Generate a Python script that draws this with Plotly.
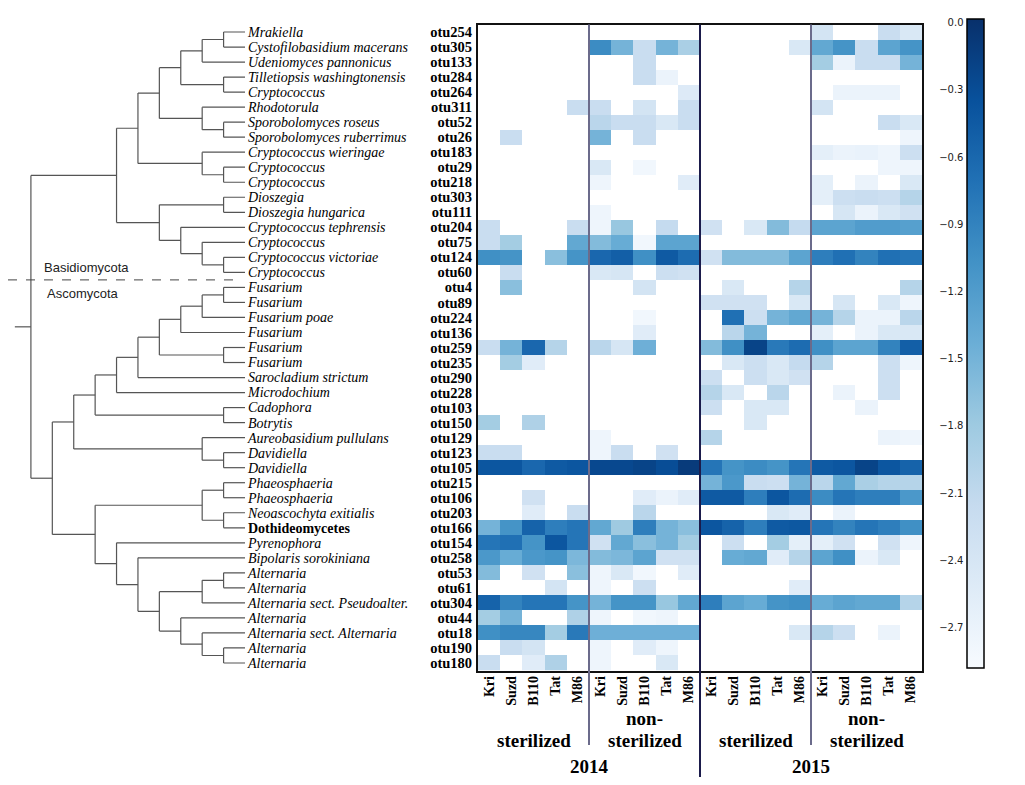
import plotly.graph_objects as go

# page body adds an 8px margin around the figure
OFF = 8
W, H = 1025 - OFF, 785 - OFF


def px(x):
    return (x - OFF) / W


def py(y):
    return 1 - (y - OFF) / H


# ---------------- data ----------------
species = [
    "Mrakiella", "Cystofilobasidium macerans", "Udeniomyces pannonicus",
    "Tilletiopsis washingtonensis", "Cryptococcus", "Rhodotorula",
    "Sporobolomyces roseus", "Sporobolomyces ruberrimus", "Cryptococcus wieringae",
    "Cryptococcus", "Cryptococcus", "Dioszegia", "Dioszegia hungarica",
    "Cryptococcus tephrensis", "Cryptococcus", "Cryptococcus victoriae",
    "Cryptococcus", "Fusarium", "Fusarium", "Fusarium poae", "Fusarium",
    "Fusarium", "Fusarium", "Sarocladium strictum", "Microdochium", "Cadophora",
    "Botrytis", "Aureobasidium pullulans", "Davidiella", "Davidiella",
    "Phaeosphaeria", "Phaeosphaeria", "Neoascochyta exitialis", "Dothideomycetes",
    "Pyrenophora", "Bipolaris sorokiniana", "Alternaria", "Alternaria",
    "Alternaria sect. Pseudoalter.", "Alternaria", "Alternaria sect. Alternaria",
    "Alternaria", "Alternaria",
]
otus = [
    "otu254", "otu305", "otu133", "otu284", "otu264", "otu311", "otu52", "otu26",
    "otu183", "otu29", "otu218", "otu303", "otu111", "otu204", "otu75", "otu124",
    "otu60", "otu4", "otu89", "otu224", "otu136", "otu259", "otu235", "otu290",
    "otu228", "otu103", "otu150", "otu129", "otu123", "otu105", "otu215", "otu106",
    "otu203", "otu166", "otu154", "otu258", "otu53", "otu61", "otu304", "otu44",
    "otu18", "otu190", "otu180",
]
non_italic = ["Dothideomycetes"]
phylum = ["Basidiomycota"] * 17 + ["Ascomycota"] * 26

samples = ["Kri", "Suzd", "B110", "Tat", "M86"]
treatments = ["sterilized", "non-<br>sterilized"]
years = ["2014", "2015"]

N = None
# log10 relative abundance, rows follow `otus`, columns follow `samples`
ster_2014 = [
    [N, N, N, N, N], [N, N, N, N, N], [N, N, N, N, N], [N, N, N, N, N],
    [N, N, N, N, N], [N, N, N, N, -2.2], [N, N, N, N, N], [N, -2.2, N, N, N],
    [N, N, N, N, N], [N, N, N, N, N], [N, N, N, N, N], [N, N, N, N, N],
    [N, N, N, N, N], [-2.2, N, N, N, -2.2], [-2.2, -1.85, N, N, -1.35],
    [-1.05, -1.1, N, -1.65, -1.1], [N, -2.2, N, N, N], [N, -1.65, N, N, N],
    [N, N, N, N, N], [N, N, N, N, N], [N, N, N, N, N],
    [-2.2, -1.5, -0.6, -2.0, N], [N, -1.85, -2.55, N, N], [N, N, N, N, N],
    [N, N, N, N, N], [N, N, N, N, N], [-1.85, N, -1.95, N, N], [N, N, N, N, N],
    [-2.2, -2.2, N, N, N], [-0.4, -0.4, -0.6, -0.45, -0.4], [N, N, N, N, N],
    [N, N, -2.3, N, N], [N, N, -2.55, N, -2.2], [-1.5, -1.1, -0.55, -0.85, -0.75],
    [-0.75, -0.7, -1.1, -0.4, -0.75], [-1.15, -1.4, -1.15, -1.1, -1.55],
    [-1.6, N, -2.3, N, -1.65], [N, N, N, -2.35, N],
    [-0.55, -0.9, -0.75, -0.75, -1.1], [-1.85, -1.5, N, N, -1.95],
    [-1.05, -0.95, -0.95, -1.85, -0.8], [N, -2.2, -2.35, N, N],
    [-2.2, N, -2.55, -1.95, N],
]
nonster_2014 = [
    [N, N, N, N, N], [-1.0, -1.5, -2.2, -1.5, -1.9], [N, N, -2.2, N, N],
    [N, N, -2.2, -2.7, N], [N, N, N, N, -2.5], [-2.2, N, -2.35, N, -2.2],
    [-2.05, -2.2, -2.2, -2.45, -2.2], [-1.5, N, -2.2, N, N], [N, N, N, N, N],
    [-2.45, N, -2.8, N, N], [-2.75, N, N, N, -2.55], [N, N, N, N, N],
    [-2.75, N, N, N, N], [-2.75, -1.75, N, -2.15, N], [-1.6, -1.4, -2.8, -1.3, -1.3],
    [-0.6, -0.5, -1.05, -0.45, -0.65], [-2.45, -2.4, N, -2.25, -2.3],
    [N, N, -2.35, N, N], [N, N, N, N, N], [N, N, -2.8, N, N], [N, N, -2.55, N, N],
    [-2.05, -2.4, -1.45, N, N], [N, N, N, N, N], [N, N, N, N, N], [N, N, N, N, N],
    [N, N, N, N, N], [N, N, N, N, N], [-2.75, N, N, N, N], [-2.75, -2.2, N, -2.3, N],
    [-0.25, -0.25, -0.2, -0.3, -0.1], [N, N, N, N, N], [N, N, -2.55, -2.7, -2.55],
    [N, N, -2.05, N, N], [-1.35, -1.8, -0.85, -1.5, -1.65],
    [-2.3, -1.35, -1.65, -1.5, -1.85], [-1.6, -1.55, -1.3, -2.3, -2.3],
    [-2.75, -2.45, -2.8, N, -2.55], [-2.75, N, -2.25, N, N],
    [-1.5, -1.1, -1.1, -1.75, -1.35], [-2.75, N, -2.8, -2.75, N],
    [-1.45, -1.45, -1.45, -1.45, -1.45], [-2.75, N, -2.55, -2.75, N],
    [-2.75, N, N, -2.45, N],
]
ster_2015 = [
    [N, N, N, N, N], [N, N, N, N, -2.45], [N, N, N, N, N], [N, N, N, N, N],
    [N, N, N, N, N], [N, N, N, N, N], [N, N, N, N, N], [N, N, N, N, N],
    [N, N, N, N, N], [N, N, N, N, N], [N, N, N, N, N], [N, N, N, N, N],
    [N, N, N, N, N], [-2.3, N, -2.45, -1.6, -2.15], [N, N, N, N, N],
    [-2.3, -1.6, -1.6, -1.6, -1.3], [N, N, N, N, N], [N, -2.45, N, N, -2.0],
    [-2.3, -2.3, -2.3, N, -2.45], [N, -0.7, -2.25, -1.5, -1.35], [N, -2.05, -1.5, N, N],
    [-1.6, -1.05, -0.2, -0.8, -0.65], [N, -2.45, -2.25, -2.45, -2.15],
    [-2.25, N, -2.25, -2.45, -2.3], [-2.0, -2.45, N, -2.05, N],
    [-2.25, N, -2.45, -2.45, N], [N, N, -2.45, N, N], [-2.0, N, N, N, N],
    [N, N, N, N, N], [-0.75, -1.1, -1.0, -1.1, -0.75], [-1.5, -1.15, -2.2, -2.25, -1.5],
    [-0.45, -0.45, -0.85, -0.4, -0.65], [N, N, N, -2.45, -2.55],
    [-0.4, -0.55, -0.85, -0.45, -0.42], [N, -2.25, N, -1.85, -2.6],
    [N, -1.4, -1.35, -2.55, -2.0], [N, N, N, N, N], [N, N, N, N, -2.55],
    [-0.85, -1.3, -1.4, -1.1, -1.05], [N, N, N, N, N], [N, N, N, N, -2.45],
    [N, N, N, N, N], [N, N, N, N, N],
]
nonster_2015 = [
    [-2.35, N, N, -2.2, -2.45], [-1.35, -1.1, -2.2, -1.3, -1.1],
    [-1.85, -2.7, -2.2, -2.2, -1.5], [N, N, N, N, N], [N, -2.7, -2.7, -2.7, N],
    [-2.35, N, N, N, N], [N, N, N, -2.2, -2.45], [N, N, N, N, -2.75],
    [-2.6, -2.7, -2.68, -2.75, -2.25], [N, N, N, -2.75, -2.75],
    [-2.6, N, -2.7, N, -2.45], [-2.6, -2.25, -2.2, -2.25, -2.0],
    [N, -2.4, -2.7, -2.45, -2.3], [-1.3, -1.3, -1.2, -1.2, -1.25], [N, N, N, N, N],
    [-0.85, -0.7, -0.9, -0.7, -0.75], [N, N, N, N, N], [N, N, N, N, -2.0],
    [N, -2.4, N, -2.45, -2.75], [-1.5, -2.0, -2.7, -2.7, -2.05],
    [-2.6, N, -2.7, -2.45, -2.45], [-1.05, -1.3, -1.3, -0.9, -0.5],
    [-2.0, N, N, -2.25, -2.75], [N, N, N, -2.25, N], [N, -2.7, N, -2.25, N],
    [N, N, -2.7, N, N], [N, N, N, N, N], [N, N, N, -2.7, -2.75], [N, N, N, N, N],
    [-0.45, -0.4, -0.2, -0.4, -0.55], [-2.05, -1.35, -1.9, -2.0, -2.0],
    [-1.0, -0.75, -0.85, -0.85, -1.15], [N, -2.7, N, N, N],
    [-0.75, -0.9, -0.75, -0.85, -1.05], [-2.6, -2.3, N, -2.3, -2.75],
    [-1.3, -1.05, -2.7, -2.45, N], [N, N, N, N, N], [N, N, N, N, N],
    [-1.4, -1.3, -1.35, -1.35, -2.0], [N, N, N, N, N], [-2.0, -2.25, N, -2.7, N],
    [N, N, N, N, N], [N, N, N, N, N],
]

# dendrogram: [merge level, left, right]; leaves are row indices
tree = [10,
        [6,
         [5,
          [4,
           [3, [2, [1, 0, 1], 2], [1, 3, 4]],
           [2, 5, [1, 6, 7]]],
          [2, 8, [1, 9, 10]]],
         [4, [1, 11, 12], [3, 13, [2, 14, [1, 15, 16]]]]],
        [9,
         [8,
          [7,
           [6, [5, [4, [3, [2, [1, 17, 18], 19], 20], [1, 21, 22]], 23], 24],
           [1, 25, 26]],
          [2, 27, [1, 28, 29]]],
         [7,
          [2, [1, 30, 31], [1, 32, 33]],
          [6, 34,
           [5, 35,
            [4, [2, [1, 36, 37], 38], [3, 39, [2, 40, [1, 41, 42]]]]]]]]]

cbar_ticks = [0.0, -0.3, -0.6, -0.9, -1.2, -1.5, -1.8, -2.1, -2.4, -2.7]
zmin, zmax = -2.88, 0.016

blues = [[0.0, "#f7fbff"], [0.125, "#deebf7"], [0.25, "#c6dbef"], [0.375, "#9ecae1"],
         [0.5, "#6baed6"], [0.625, "#4292c6"], [0.75, "#2171b5"], [0.875, "#08519c"],
         [1.0, "#08306b"]]

# ---------------- build ----------------
blocks = [ster_2014, nonster_2014, ster_2015, nonster_2015]
nrow = len(otus)
z = [sum((blk[r] for blk in blocks), []) for r in range(nrow)]
ncol = len(z[0])
col_text = ["<b>%s</b>" % s for s in samples] * (len(years) * len(treatments))

dx, dy = [], []


def draw(node):
    if isinstance(node, int):
        return 0, node
    lev, a, b = node
    la, ya = draw(a)
    lb, yb = draw(b)
    dx.extend([la, lev, None, lb, lev, None, lev, lev, None])
    dy.extend([ya, ya, None, yb, yb, None, ya, yb, None])
    return lev, (ya + yb) / 2.0


root_lev, root_y = draw(tree)
dx.extend([root_lev, root_lev + 0.75, None])
dy.extend([root_y, root_y, None])

serif = "Liberation Serif"
y_dom = [py(670.5), py(24.5)]
yr = [nrow - 0.5, -0.5]
XMAX = 11.07
CB_TOP, CB_BOT = 19, 668

fig = go.Figure()
fig.add_trace(go.Heatmap(
    z=z, x=list(range(ncol)), y=list(range(nrow)),
    zmin=zmin, zmax=zmax, colorscale=blues, hoverongaps=False,
    xaxis="x", yaxis="y",
    colorbar=dict(x=px(966.5), xanchor="left", xpad=0, y=py(CB_TOP), yanchor="top", ypad=0,
                  thickness=17, thicknessmode="pixels", len=CB_BOT - CB_TOP, lenmode="pixels",
                  outlinewidth=1.5, outlinecolor="black", showticklabels=False, ticks=""),
))
fig.add_trace(go.Scatter(x=dx, y=dy, mode="lines", xaxis="x2", yaxis="y2",
                         line=dict(color="#555555", width=1.2), hoverinfo="skip",
                         showlegend=False))
fig.add_trace(go.Scatter(x=[], y=[], xaxis="x3", yaxis="y3", showlegend=False))

sp_text = [("<b>%s</b>" % s) if s in non_italic else ("<i>%s</i>" % s) for s in species]

fig.update_layout(
    width=W, height=H, margin=dict(l=0, r=0, t=0, b=0),
    paper_bgcolor="white", plot_bgcolor="white", showlegend=False,
    xaxis=dict(domain=[px(478), px(922)], range=[-0.5, ncol - 0.5], anchor="y",
               tickmode="array", tickvals=list(range(ncol)), ticktext=col_text,
               tickangle=-90, tickfont=dict(family=serif, size=14, color="black"),
               showline=True, mirror=True, linecolor="#111111", linewidth=2,
               showgrid=False, zeroline=False, ticks="", ticklabelstandoff=-2,
               automargin=False),
    yaxis=dict(domain=y_dom, range=yr, anchor="x",
               tickmode="array", tickvals=list(range(nrow)),
               ticktext=["<b>%s</b>" % o for o in otus],
               tickfont=dict(family=serif, size=14.5, color="black"),
               showline=True, mirror=True, linecolor="#111111", linewidth=2,
               showgrid=False, zeroline=False, ticks="", ticklabelstandoff=1,
               automargin=False),
    xaxis2=dict(domain=[px(OFF), px(245)], range=[XMAX, 0], anchor="y2", visible=False),
    yaxis2=dict(domain=y_dom, range=yr, anchor="x2", side="right",
                tickmode="array", tickvals=list(range(nrow)), ticktext=sp_text,
                tickfont=dict(family=serif, size=14, color="black"),
                showline=False, showgrid=False, zeroline=False, ticks="",
                ticklabelstandoff=2, automargin=False),
    xaxis3=dict(domain=[px(966.5), px(984)], range=[0, 1], anchor="y3", visible=False),
    yaxis3=dict(domain=[py(CB_BOT), py(CB_TOP)], range=[zmin, zmax], anchor="x3",
                side="left", tickmode="array", tickvals=cbar_ticks, tickformat=".1f",
                ticks="inside", ticklen=5, tickcolor="black", tickwidth=1,
                tickfont=dict(family="DejaVu Sans", size=10, color="#222222"),
                showline=False, showgrid=False, zeroline=False,
                ticklabelstandoff=2, automargin=False),
)

# phylum separator and labels
n_basid = phylum.count("Basidiomycota")
sep = n_basid - 0.5
fig.add_shape(type="line", xref="x2", yref="y2", x0=XMAX, x1=0.2, y0=sep, y1=sep,
              line=dict(color="#444444", width=1, dash="dash"))
fig.add_annotation(xref="x2", yref="y2", x=9.49, y=sep - 0.85, text="Basidiomycota",
                   showarrow=False, xanchor="left", yanchor="middle",
                   font=dict(family="Liberation Sans", size=13, color="#222222"))
fig.add_annotation(xref="x2", yref="y2", x=9.35, y=sep + 0.9, text="Ascomycota",
                   showarrow=False, xanchor="left", yanchor="middle",
                   font=dict(family="Liberation Sans", size=13, color="#222222"))

# column group separators and labels
ns = len(samples)
top = y_dom[1]
for g in range(1, len(blocks)):
    xb = g * ns - 0.5
    is_year = (g % len(treatments) == 0)
    fig.add_shape(type="line", xref="x", yref="paper", x0=xb, x1=xb, y0=top,
                  y1=py(777 if is_year else 745),
                  line=dict(color="#1b1b4b" if is_year else "#6b6b8b", width=2))

for g in range(len(blocks)):
    lines = treatments[g % len(treatments)].split("<br>")
    for k, line in enumerate(reversed(lines)):
        fig.add_annotation(xref="x", yref="paper", x=g * ns + (ns - 1) / 2,
                           y=py(752 - 22 * k), yanchor="bottom", showarrow=False,
                           borderpad=0, text="<b>%s</b>" % line,
                           font=dict(family=serif, size=19, color="black"))
per_year = ns * len(treatments)
for i, yv in enumerate(years):
    fig.add_annotation(xref="x", yref="paper", x=i * per_year + (per_year - 1) / 2,
                       y=py(779), yanchor="bottom", showarrow=False,
                       text="<b>%s</b>" % yv,
                       font=dict(family=serif, size=19, color="black"))

fig.write_html("out.html")
